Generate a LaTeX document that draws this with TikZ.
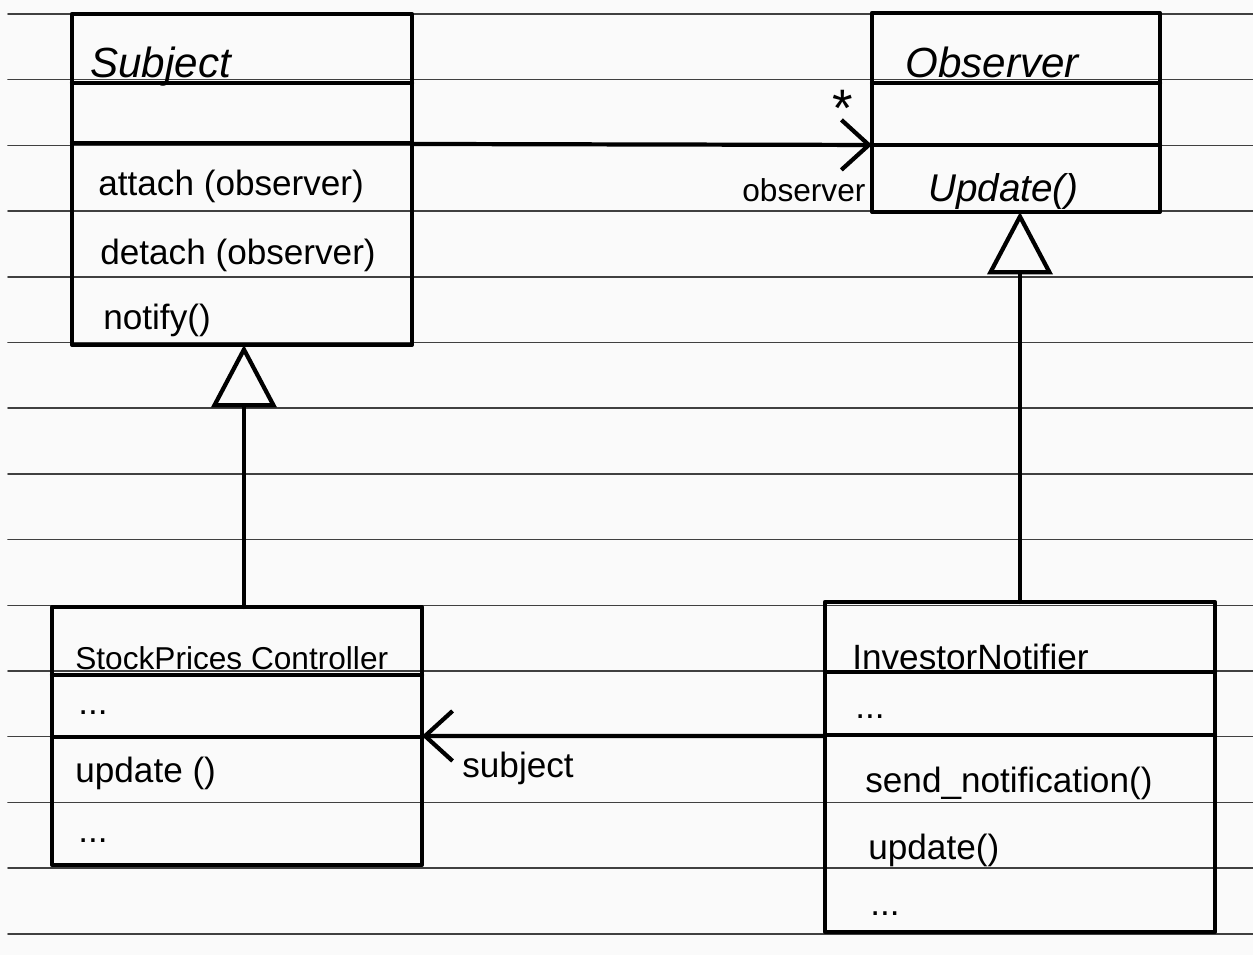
\documentclass[tikz,border=0pt]{standalone}
\usepackage{fontspec}
\setmainfont{Liberation Sans}
\usetikzlibrary{arrows.meta}

\begin{document}
\begin{tikzpicture}[x=0.02cm, y=-0.02cm, line join=round, line cap=round,
    ruling/.style={draw=black!75, line width=0.9pt},
    edge/.style={line width=2.4pt},
    classbox/.style={draw, edge, anchor=north west, inner sep=0pt, outer sep=0pt},
    member/.style={anchor=base west, inner sep=0pt, font=\fontsize{20}{24}\selectfont},
    cname/.style={member},
    aname/.style={member, font=\fontsize{24}{28}\selectfont\itshape},
    inherit/.style={edge, -{Triangle[open, length=1.25cm, width=1.3cm, line width=2.4pt]}},
    assoc/.style={edge, -{Straight Barb[length=0.55cm, width=1.0cm, line width=2.4pt]}}]
        \fill[gray!4] (0,0) rectangle (1253,955);
        \useasboundingbox (0,0) rectangle (1253,955);
        \foreach \i in {0,...,14}
            \draw[ruling] (8,14+65.7*\i) -- (1253,14+65.7*\i);

        \node[classbox, minimum width=6.8cm, minimum height=6.62cm] (subject) at (72,14) {};
        \draw[edge] (72,83) -- (412,83);
        \draw[edge] (72,143) -- (412,143);
        \node[aname] (subjectname) at (90,78) {Subject};
        \node[member] (attach) at (98,196) {attach (observer)};
        \node[member] (detach) at (100,265) {detach (observer)};
        \node[member] (notify) at (103,330) {notify()};

        \node[classbox, minimum width=5.76cm, minimum height=3.98cm] (observer) at (872,13) {};
        \draw[edge] (872,83) -- (1160,83);
        \draw[edge] (872,145) -- (1160,145);
        \node[aname] (observername) at (905,78) {Observer};
        \node[member, font=\fontsize{22}{26}\selectfont\itshape] (update) at (928,202) {Update()};

        \node[classbox, minimum width=7.4cm, minimum height=5.16cm] (spc) at (52,607) {};
        \draw[edge] (52,675) -- (422,675);
        \draw[edge] (52,737) -- (422,737);
        \node[cname, font=\fontsize{18}{22}\selectfont] (spcname) at (75,669) {StockPrices Controller};
        \node[member] (spcattr) at (78,714) {...};
        \node[member] (spcupdate) at (75,782) {update ()};
        \node[member] (spcmore) at (78,842) {...};

        \node[classbox, minimum width=7.8cm, minimum height=6.6cm] (in) at (825,602) {};
        \draw[edge] (825,672) -- (1215,672);
        \draw[edge] (825,735) -- (1215,735);
        \node[cname] (inname) at (852,669) {InvestorNotifier};
        \node[member] (inattr) at (855,718) {...};
        \node[member] (insend) at (865,792) {send\_notification()};
        \node[member] (inupdate) at (868,859) {update()};
        \node[member] (inmore) at (870,915) {...};

        \draw[inherit] ([xshift=0.14cm]spc.north) -- ([xshift=0.14cm]spc.north |- subject.south);
        \draw[inherit] (in.north) -- (in.north |- observer.south);
        \draw[assoc] ([yshift=-2.6cm]subject.north east) -- ([yshift=-2.64cm]observer.north west);
        \draw[assoc] ([yshift=-2.68cm]in.north west) -- ([yshift=-2.58cm]spc.north east);

        \node[member, font=\fontsize{18}{22}\selectfont] (obsrole) at (742,202) {observer};
        \node[inner sep=0pt, font=\fontsize{30}{30}\selectfont] (mult) at (843,108) {*};
        \node[member] (subjrole) at (462,777) {subject};
    \end{tikzpicture}
\end{document}
